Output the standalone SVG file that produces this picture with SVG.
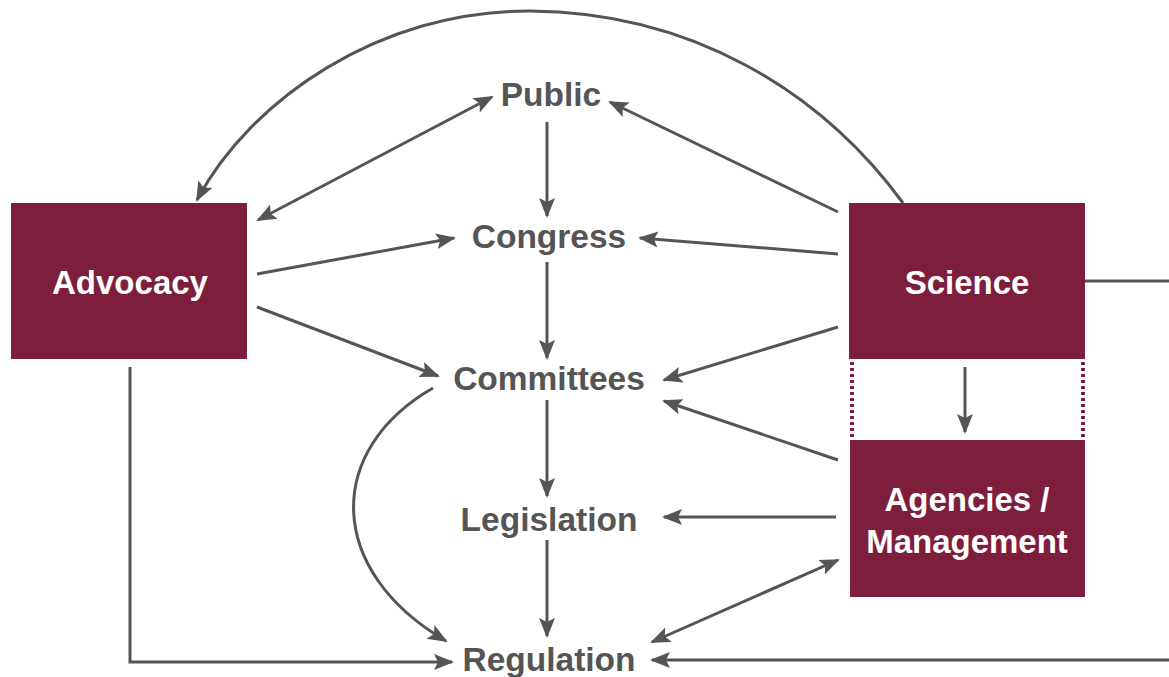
<svg xmlns="http://www.w3.org/2000/svg" width="1169" height="677" viewBox="0 0 1169 677">
<style>
.box{fill:#7d1f3c}
.bt{fill:#fff;font-family:"Liberation Sans",Arial,sans-serif;font-weight:bold;font-size:33px;text-anchor:middle}
.lt{fill:#555;font-family:"Liberation Sans",Arial,sans-serif;font-weight:bold;font-size:33.5px;text-anchor:middle}
.c{fill:none;stroke:#555;stroke-width:3}
.dot{stroke:#7d1f3c;stroke-width:4;stroke-dasharray:3 3}
</style>
<defs>
<marker id="a" viewBox="0 0 10 10" refX="9" refY="5" markerWidth="20" markerHeight="20" orient="auto-start-reverse" markerUnits="userSpaceOnUse">
<path d="M0,1 L10,5 L0,9 L2,5 z" fill="#555"/>
</marker>
</defs>
<rect width="1169" height="677" fill="#fff"/>
<g id="connectors">
<line class="c" x1="547" y1="122" x2="547" y2="216" marker-end="url(#a)"/>
<line class="c" x1="547" y1="262" x2="547" y2="358" marker-end="url(#a)"/>
<line class="c" x1="547" y1="400" x2="547" y2="496" marker-end="url(#a)"/>
<line class="c" x1="547" y1="540" x2="547" y2="636" marker-end="url(#a)"/>
<path class="c" d="M903,203 C820,90 690,12 530,11 C380,10 250,100 197,200" marker-end="url(#a)"/>
<line class="c" x1="258" y1="220" x2="492" y2="97" marker-start="url(#a)" marker-end="url(#a)"/>
<line class="c" x1="257" y1="274" x2="454" y2="238" marker-end="url(#a)"/>
<line class="c" x1="257" y1="307" x2="438" y2="376" marker-end="url(#a)"/>
<line class="c" x1="838" y1="212" x2="610" y2="102" marker-end="url(#a)"/>
<line class="c" x1="838" y1="254" x2="640" y2="238" marker-end="url(#a)"/>
<line class="c" x1="838" y1="327" x2="664" y2="380" marker-end="url(#a)"/>
<line class="c" x1="838" y1="460" x2="664" y2="401" marker-end="url(#a)"/>
<line class="c" x1="836" y1="517" x2="664" y2="517" marker-end="url(#a)"/>
<line class="c" x1="838" y1="560" x2="652" y2="642" marker-start="url(#a)" marker-end="url(#a)"/>
<path class="c" d="M433,388 C325,450 325,570 446,641" marker-end="url(#a)"/>
<polyline class="c" points="130,367 130,662 452,662" marker-end="url(#a)"/>
<line class="c" x1="1085" y1="281" x2="1169" y2="281"/>
<line class="c" x1="1169" y1="660" x2="652" y2="660" marker-end="url(#a)"/>
<line class="c" x1="965" y1="367" x2="965" y2="432" marker-end="url(#a)"/>
<line class="dot" x1="852" y1="362" x2="852" y2="438"/>
<line class="dot" x1="1083" y1="362" x2="1083" y2="438"/>
</g>
<g id="advocacy">
<rect class="box" x="11" y="203" width="236" height="156"/>
<text class="bt" x="130" y="294">Advocacy</text>
</g>
<g id="science">
<rect class="box" x="849" y="203" width="236" height="156"/>
<text class="bt" x="967" y="294">Science</text>
</g>
<g id="agencies">
<rect class="box" x="850" y="440" width="235" height="157"/>
<text class="bt" x="967" y="511">Agencies /</text>
<text class="bt" x="967" y="553">Management</text>
</g>
<g id="public"><text class="lt" x="551" y="106">Public</text></g>
<g id="congress"><text class="lt" x="549" y="248">Congress</text></g>
<g id="committees"><text class="lt" x="549" y="390">Committees</text></g>
<g id="legislation"><text class="lt" x="549" y="531">Legislation</text></g>
<g id="regulation"><text class="lt" x="549" y="671">Regulation</text></g>
</svg>
